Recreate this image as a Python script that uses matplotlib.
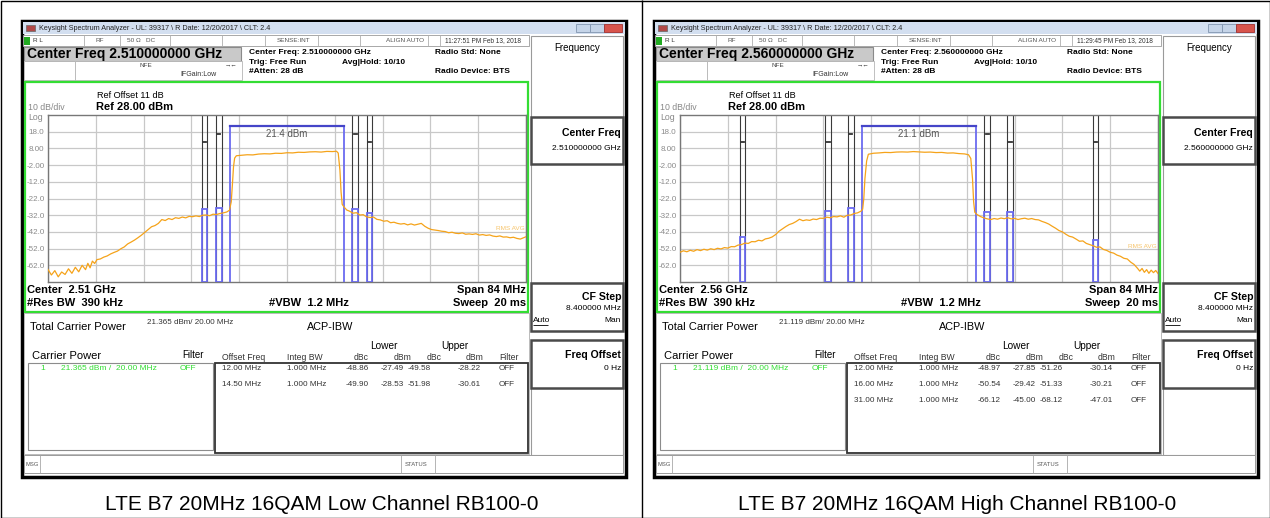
import numpy as np
import matplotlib
matplotlib.use("Agg")
import matplotlib.pyplot as plt
from matplotlib.patches import Rectangle

plt.rcParams['font.family'] = ['Liberation Sans', 'DejaVu Sans']

# DATA  (trace: MHz offset from centre, dBm)
low_trace = [
    (-42.0, -64.5), (-41.4, -67.8), (-40.8, -65.2), (-40.2, -68.9), (-39.6, -66.0),
    (-39.0, -67.5), (-38.4, -64.1), (-37.8, -66.8), (-37.2, -63.2), (-36.6, -65.9),
    (-36.0, -62.0), (-35.4, -64.6), (-35.0, -60.8), (-34.6, -63.5), (-34.2, -59.5),
    (-33.8, -60.9), (-33.4, -58.6), (-32.8, -58.2), (-32.2, -57.1), (-31.6, -56.4),
    (-31.0, -55.2), (-30.4, -54.3), (-29.8, -53.5), (-29.2, -52.1), (-28.6, -51.0),
    (-28.0, -49.2), (-27.4, -48.1), (-26.8, -46.9), (-26.2, -45.5), (-25.6, -44.0),
    (-25.0, -42.3), (-24.4, -40.6), (-23.8, -38.9), (-23.2, -38.2), (-22.6, -36.9),
    (-22.0, -34.6), (-21.4, -35.2), (-20.8, -34.0), (-20.2, -34.6), (-19.6, -33.5),
    (-19.0, -33.9), (-18.4, -33.1), (-17.8, -33.6), (-17.2, -32.7), (-16.6, -32.9),
    (-16.0, -32.4), (-15.4, -32.8), (-14.8, -32.0), (-14.2, -31.9), (-13.6, -32.3),
    (-13.0, -31.4), (-12.4, -31.6), (-11.8, -31.0), (-11.2, -30.6), (-10.6, -30.1),
    (-10.1, -29.0), (-9.8, -24.0), (-9.6, -14.0), (-9.4, -3.0), (-9.2, 2.2),
    (-8.9, 3.6), (-8.0, 3.9), (-7.0, 4.2), (-6.0, 4.1), (-5.0, 4.6), (-4.0, 4.8),
    (-3.0, 4.7), (-2.0, 5.1), (-1.0, 5.0), (0.0, 5.4), (1.0, 5.3), (2.0, 5.7),
    (3.0, 5.6), (4.0, 5.9), (5.0, 6.0), (6.0, 5.8), (7.0, 6.2), (8.0, 6.1),
    (8.7, 6.3), (9.0, 5.2), (9.3, -5.0), (9.5, -18.0), (9.7, -25.5), (10.0, -27.0),
    (10.5, -28.9), (11.0, -29.6), (11.6, -30.8), (12.2, -30.5), (12.8, -31.9),
    (13.4, -31.7), (14.0, -33.0), (14.6, -33.4), (15.2, -33.1), (15.8, -34.5),
    (16.4, -34.8), (17.0, -35.6), (17.6, -35.3), (18.2, -36.5), (18.8, -36.2),
    (19.4, -36.9), (20.0, -37.3), (20.6, -37.0), (21.2, -37.8), (21.8, -37.2),
    (22.4, -37.9), (23.0, -37.4), (23.6, -36.9), (24.2, -38.6), (24.8, -39.8),
    (25.4, -40.6), (26.0, -40.9), (26.6, -41.2), (27.2, -41.6), (27.8, -41.8),
    (28.4, -42.5), (29.0, -42.2), (29.6, -42.8), (30.2, -43.0), (30.8, -42.6),
    (31.4, -43.4), (32.0, -43.2), (32.6, -43.5), (33.2, -43.1), (33.8, -43.9),
    (34.4, -43.6), (35.0, -44.1), (35.6, -43.8), (36.2, -44.5), (36.8, -44.8),
    (37.4, -44.4), (38.0, -45.1), (38.6, -45.0), (39.2, -45.5), (39.8, -45.2),
    (40.4, -45.9), (41.0, -46.3), (41.5, -45.6), (42.0, -44.9),
]

high_trace = [
    (-42.0, -54.2), (-41.4, -53.3), (-40.8, -53.9), (-40.2, -53.0), (-39.6, -53.6),
    (-39.0, -52.6), (-38.4, -53.2), (-37.8, -52.4), (-37.2, -52.9), (-36.6, -52.1),
    (-36.0, -52.6), (-35.4, -51.8), (-34.8, -52.2), (-34.2, -51.4), (-33.6, -51.7),
    (-33.0, -50.8), (-32.4, -50.9), (-31.8, -49.9), (-31.2, -49.6), (-30.6, -48.7),
    (-30.0, -48.9), (-29.4, -47.8), (-28.8, -47.9), (-28.2, -47.0), (-27.6, -47.4),
    (-27.0, -46.2), (-26.4, -45.8), (-25.8, -45.0), (-25.2, -43.6), (-24.6, -41.6),
    (-24.0, -40.2), (-23.4, -38.8), (-22.8, -37.6), (-22.2, -36.9), (-21.6, -35.8),
    (-21.0, -34.4), (-20.4, -35.3), (-19.8, -34.8), (-19.2, -35.1), (-18.6, -34.3),
    (-18.0, -34.6), (-17.4, -33.8), (-16.8, -33.9), (-16.2, -33.2), (-15.6, -33.5),
    (-15.0, -32.8), (-14.4, -33.0), (-13.8, -32.4), (-13.2, -33.2), (-12.6, -32.0),
    (-12.0, -31.9), (-11.4, -31.0), (-10.8, -30.6), (-10.2, -29.6), (-9.9, -28.4),
    (-9.7, -22.0), (-9.5, -10.0), (-9.2, 0.5), (-8.9, 4.5), (-8.0, 5.1), (-7.0, 5.3),
    (-6.0, 5.6), (-5.0, 5.5), (-4.0, 5.8), (-3.0, 5.9), (-2.0, 5.8), (-1.0, 6.1),
    (0.0, 5.9), (1.0, 5.7), (2.0, 5.8), (3.0, 5.5), (4.0, 5.6), (5.0, 5.2),
    (6.0, 5.3), (7.0, 4.9), (8.0, 4.7), (8.7, 4.2), (9.1, 2.0), (9.4, -10.0),
    (9.6, -24.0), (9.8, -30.2), (10.2, -31.6), (10.8, -32.8), (11.4, -33.6),
    (12.0, -34.2), (12.6, -34.6), (13.2, -34.0), (13.8, -34.4), (14.4, -33.7),
    (15.0, -34.1), (15.6, -33.5), (16.2, -34.2), (16.8, -33.9), (17.4, -34.6),
    (18.0, -34.1), (18.6, -33.8), (19.2, -34.4), (19.8, -34.0), (20.4, -34.6),
    (21.0, -34.8), (21.6, -35.7), (22.2, -36.4), (22.8, -37.3), (23.4, -38.6),
    (24.0, -39.8), (24.6, -41.2), (25.2, -42.0), (25.8, -43.4), (26.4, -44.6),
    (27.0, -45.1), (27.6, -46.3), (28.2, -47.6), (28.8, -47.4), (29.4, -48.9),
    (30.0, -49.6), (30.6, -50.3), (31.2, -51.2), (31.8, -51.0), (32.4, -52.5),
    (33.0, -53.1), (33.6, -54.2), (34.2, -54.7), (34.8, -55.9), (35.4, -56.6),
    (36.0, -57.8), (36.6, -58.2), (37.2, -60.1), (37.8, -61.5), (38.4, -63.8),
    (38.8, -65.5), (39.2, -63.9), (39.6, -66.2), (40.0, -64.6), (40.4, -66.8),
    (40.8, -64.9), (41.2, -66.4), (41.6, -65.1), (42.0, -66.9),
]

span_mhz = 84.0
ref_level = 28.0
db_per_div = 10.0
y_tick_vals = [18, 8, -2, -12, -22, -32, -42, -52, -62]
y_tick_labels = ['18.0', '8.00', '-2.00', '-12.0', '-22.0', '-32.0', '-42.0', '-52.0', '-62.0']

carrier_bw = 20.0
integ_bw = 1.0

low_center = '2.510000000 GHz'
high_center = '2.560000000 GHz'
low_center_short = '2.51 GHz'
high_center_short = '2.56 GHz'
low_time = '11:27:51 PM Feb 13, 2018'
high_time = '11:29:45 PM Feb 13, 2018'
low_carrier_power = 21.365
high_carrier_power = 21.119
low_rms_label_level = -39.7
high_rms_label_level = -50.8

low_offsets = [12.0, 14.5]
low_lower_dbc = [-48.86, -49.90]
low_lower_dbm = [-27.49, -28.53]
low_upper_dbc = [-49.58, -51.98]
low_upper_dbm = [-28.22, -30.61]

high_offsets = [12.0, 16.0, 31.0]
high_lower_dbc = [-48.97, -50.54, -66.12]
high_lower_dbm = [-27.85, -29.42, -45.00]
high_upper_dbc = [-51.26, -51.33, -68.12]
high_upper_dbm = [-30.14, -30.21, -47.01]

captions = ['LTE B7 20MHz 16QAM Low Channel RB100-0',
            'LTE B7 20MHz 16QAM High Channel RB100-0']

W, H = 1270, 518
fig = plt.figure(figsize=(W / 100, H / 100), dpi=100)
bg = fig.add_axes([0, 0, 1, 1])
bg.set_xlim(0, W)
bg.set_ylim(H, 0)
bg.axis('off')


def txt(x, y, s, size=6, ha='left', color='black', weight='normal', **kw):
    bg.text(x, y, s, fontsize=size, ha=ha, va='center', color=color, fontweight=weight, **kw)


def box(x0, y0, x1, y1, fc='none', ec='black', lw=1.0, z=1):
    bg.add_patch(Rectangle((x0, y0), x1 - x0, y1 - y0, facecolor=fc, edgecolor=ec, lw=lw, zorder=z))


def line(xs, ys, color='black', lw=1.0, z=2):
    bg.plot(xs, ys, color=color, lw=lw, zorder=z, solid_capstyle='butt')


def px_rect(x0, y0, x1, y1):
    return [x0 / W, 1 - y1 / H, (x1 - x0) / W, (y1 - y0) / H]


def draw_screen(dx, center, center_short, stamp, power, rms_level, trace,
                offsets, lo_dbc, lo_dbm, up_dbc, up_dbm):
    # window frame
    box(22 + dx, 21, 626 + dx, 477, fc='white', ec='black', lw=2.5, z=1)
    box(23 + dx, 22, 625 + dx, 34, fc='#d3dff0', ec='none', z=2)
    box(26 + dx, 25, 35 + dx, 31, fc='#b04848', ec='#666', lw=0.5, z=3)
    txt(39 + dx, 28, r'Keysight Spectrum Analyzer - UL: 39317 \ R Date: 12/20/2017 \ CLT: 2.4', size=5.2, color='#222')
    box(576 + dx, 24, 590 + dx, 32, fc='#c5d4e8', ec='#8296b0', lw=0.6, z=3)
    box(590 + dx, 24, 604 + dx, 32, fc='#c5d4e8', ec='#8296b0', lw=0.6, z=3)
    box(604 + dx, 24, 622 + dx, 32, fc='#d8544c', ec='#a03030', lw=0.6, z=3)

    # status row
    box(23 + dx, 35, 529 + dx, 46, fc='white', ec='#9a9a9a', lw=0.6, z=2)
    for sx in [84, 120, 170, 222, 265, 318, 360, 428, 440]:
        line([sx + dx, sx + dx], [35, 46], color='#b0b0b0', lw=0.6, z=3)
    box(24 + dx, 37, 30 + dx, 45, fc='#22aa22', ec='none', z=3)
    txt(33 + dx, 40.5, 'R L', size=4.6, color='#333')
    txt(95 + dx, 40.5, 'RF', size=4.6, color='#555')
    txt(127 + dx, 40.5, u'50 \u03a9   DC', size=4.6, color='#555')
    txt(277 + dx, 40.5, 'SENSE:INT', size=4.6, color='#555')
    txt(386 + dx, 40.5, 'ALIGN AUTO', size=4.6, color='#555')
    txt(445 + dx, 40.5, stamp, size=4.7, color='#333')

    # header
    box(24 + dx, 47, 241 + dx, 61, fc='#c9c9c9', ec='#8a8a8a', lw=0.8, z=2)
    txt(27 + dx, 54, 'Center Freq ' + center, size=10, weight='bold')
    box(24 + dx, 61, 75 + dx, 80, fc='white', ec='#b5b5b5', lw=0.6, z=2)
    box(75 + dx, 61, 242 + dx, 80, fc='white', ec='#b5b5b5', lw=0.6, z=2)
    txt(140 + dx, 65.5, 'NFE', size=4.6, color='#444')
    txt(231 + dx, 64.5, u'\u2192\u2190', size=4.6, color='#333', ha='center')
    txt(180 + dx, 74, 'IFGain:Low', size=5, color='#333')
    txt(249 + dx, 52, 'Center Freq: ' + center, size=6, weight='bold')
    txt(249 + dx, 62, 'Trig: Free Run', size=6, weight='bold')
    txt(249 + dx, 71.5, '#Atten: 28 dB', size=6, weight='bold')
    txt(342 + dx, 62, 'Avg|Hold: 10/10', size=6, weight='bold')
    txt(435 + dx, 52, 'Radio Std: None', size=6, weight='bold')
    txt(435 + dx, 71.5, 'Radio Device: BTS', size=6, weight='bold')

    # green graticule frame
    box(25 + dx, 82, 528 + dx, 312, fc='white', ec='#33dd33', lw=1.6, z=2)
    txt(97 + dx, 95.5, 'Ref Offset 11 dB', size=6.6)
    txt(28 + dx, 107.5, '10 dB/div', size=6.3, color='#888')
    txt(96 + dx, 107, 'Ref 28.00 dBm', size=8, weight='bold')
    txt(28 + dx, 118, 'Log', size=6.3, color='#888')
    txt(27 + dx, 290, 'Center  ' + center_short, size=8, weight='bold')
    txt(27 + dx, 303, '#Res BW  390 kHz', size=8, weight='bold')
    txt(309 + dx, 303, '#VBW  1.2 MHz', size=8, weight='bold', ha='center')
    txt(526 + dx, 290, 'Span 84 MHz', size=8, weight='bold', ha='right')
    txt(526 + dx, 303, 'Sweep  20 ms', size=8, weight='bold', ha='right')

    # trace axes
    ax = fig.add_axes(px_rect(48 + dx, 115, 526 + dx, 282), zorder=5)
    bottom = ref_level - 10 * db_per_div
    ax.set_xlim(-span_mhz / 2, span_mhz / 2)
    ax.set_ylim(bottom, ref_level)
    ax.set_xticks(np.linspace(-span_mhz / 2, span_mhz / 2, 11))
    ax.set_xticklabels([])
    ax.set_yticks(y_tick_vals)
    ax.set_yticklabels(y_tick_labels)
    ax.tick_params(length=0, pad=2.5, labelsize=5.8, labelcolor='#8a8a8a')
    ax.grid(True, color='#c8c8c8', lw=0.9)
    ax.set_axisbelow(True)
    for sp in ax.spines.values():
        sp.set_color('#777777')
        sp.set_linewidth(1.0)

    for i, off in enumerate(offsets):
        mark_y = 16.6 if i == 0 else 11.8
        for side, val in ((-1, lo_dbm[i]), (1, up_dbm[i])):
            c = side * off
            for e in (c - integ_bw / 2, c + integ_bw / 2):
                ax.plot([e, e], [bottom, ref_level], color='#3a3a3a', lw=0.8, zorder=2)
            ax.add_patch(Rectangle((c - integ_bw / 2, bottom), integ_bw, val - bottom,
                                   fill=False, edgecolor='#6b6bf0', lw=1.3, zorder=4))
            ax.plot([c - 0.28, c + 0.28], [mark_y, mark_y], color='#333', lw=1.3, zorder=4)

    hb = carrier_bw / 2
    ax.plot([-hb, -hb, hb, hb], [bottom, power, power, bottom], color='#6b6bf0', lw=1.3, zorder=4)
    ax.plot([-hb, hb], [power, power], color='#4545c8', lw=1.6, zorder=4)
    ax.text(0, 16.4, '%.1f dBm' % power, fontsize=7, ha='center', va='center', color='#555')

    fx = [p[0] for p in trace]
    fy = [p[1] for p in trace]
    ax.plot(fx, fy, color='#f5a31a', lw=0.9, zorder=6)
    ax.text(span_mhz / 2 - 0.3, rms_level, 'RMS AVG', fontsize=4.6, ha='right', va='center',
            color='#f7c46a', zorder=7)

    # measurement results
    box(24 + dx, 313, 529 + dx, 454, fc='white', ec='#b0b0b0', lw=0.6, z=2)
    txt(30 + dx, 326.5, 'Total Carrier Power', size=8)
    txt(147 + dx, 323, '%.3f dBm/ %.2f MHz' % (power, carrier_bw), size=5.8, color='#333')
    txt(330 + dx, 327, 'ACP-IBW', size=7.8, ha='center')
    txt(32 + dx, 356, 'Carrier Power', size=8)
    txt(204 + dx, 355, 'Filter', size=7, ha='right')
    box(28 + dx, 363, 213 + dx, 450, fc='white', ec='#8c8c8c', lw=0.8, z=2)
    box(215 + dx, 363, 528 + dx, 453, fc='white', ec='#333333', lw=1.3, z=2)
    green = '#33dd33'
    txt(43 + dx, 369, '1', size=6, color=green, ha='center')
    txt(61 + dx, 369, '%.3f dBm /  %.2f MHz' % (power, carrier_bw), size=6, color=green)
    txt(180 + dx, 369, 'OFF', size=6, color=green)

    txt(384 + dx, 346, 'Lower', size=7.3, ha='center')
    txt(455 + dx, 346, 'Upper', size=7.3, ha='center')
    hy = 357
    txt(222 + dx, hy, 'Offset Freq', size=6.2, color='#333')
    txt(287 + dx, hy, 'Integ BW', size=6.2, color='#333')
    txt(369 + dx, hy, 'dBc', size=6.2, color='#333', ha='right')
    txt(412 + dx, hy, 'dBm', size=6.2, color='#333', ha='right')
    txt(442 + dx, hy, 'dBc', size=6.2, color='#333', ha='right')
    txt(483 + dx, hy, 'dBm', size=6.2, color='#333', ha='right')
    txt(499 + dx, hy, 'Filter', size=6.2, color='#333')
    for i, off in enumerate(offsets):
        ry = 369 + 15.5 * i
        txt(222 + dx, ry, '%.2f MHz' % off, size=5.9, color='#333')
        txt(287 + dx, ry, '%.3f MHz' % integ_bw, size=5.9, color='#333')
        txt(369 + dx, ry, '%.2f' % lo_dbc[i], size=5.9, color='#333', ha='right')
        txt(404 + dx, ry, '%.2f' % lo_dbm[i], size=5.9, color='#333', ha='right')
        txt(431 + dx, ry, '%.2f' % up_dbc[i], size=5.9, color='#333', ha='right')
        txt(481 + dx, ry, '%.2f' % up_dbm[i], size=5.9, color='#333', ha='right')
        txt(499 + dx, ry, 'OFF', size=5.9, color='#333')

    # softkeys
    sk0, sk1 = 531 + dx, 623 + dx
    box(sk0, 36, sk1, 117, fc='white', ec='#9a9a9a', lw=0.8, z=2)
    txt((sk0 + sk1) / 2, 48, 'Frequency', size=7, ha='center')
    box(sk0, 117, sk1, 164, fc='white', ec='#4a4a4a', lw=1.8, z=3)
    txt(sk1 - 2, 133, 'Center Freq', size=7.6, weight='bold', ha='right')
    txt(sk1 - 2, 148, center, size=6, ha='right')
    box(sk0, 164, sk1, 283, fc='white', ec='#9a9a9a', lw=0.8, z=2)
    box(sk0, 283, sk1, 331, fc='white', ec='#4a4a4a', lw=1.8, z=3)
    txt(sk1 - 2, 297, 'CF Step', size=7.6, weight='bold', ha='right')
    txt(sk1 - 2, 308, '8.400000 MHz', size=6, ha='right')
    txt(sk0 + 2, 320, 'Auto', size=6, ha='left')
    line([sk0 + 2, sk0 + 17], [324.5, 324.5], color='black', lw=0.6, z=4)
    txt(sk1 - 2, 320, 'Man', size=6, ha='right')
    box(sk0, 340, sk1, 388, fc='white', ec='#4a4a4a', lw=1.8, z=3)
    txt(sk1 - 2, 355, 'Freq Offset', size=7.6, weight='bold', ha='right')
    txt(sk1 - 2, 369, '0 Hz', size=6, ha='right')
    box(sk0, 388, sk1, 455, fc='white', ec='#9a9a9a', lw=0.8, z=2)

    # message bar
    box(24 + dx, 455, 623 + dx, 473, fc='white', ec='#9a9a9a', lw=0.7, z=3)
    for sx in [39.5, 401, 434.5]:
        line([sx + dx, sx + dx], [455, 473], color='#a8a8a8', lw=0.6, z=4)
    txt(26 + dx, 464, 'MSG', size=4.2, color='#555')
    txt(405 + dx, 464, 'STATUS', size=4.2, color='#555')


draw_screen(0, low_center, low_center_short, low_time, low_carrier_power, low_rms_label_level,
            low_trace, low_offsets, low_lower_dbc, low_lower_dbm, low_upper_dbc, low_upper_dbm)
draw_screen(632, high_center, high_center_short, high_time, high_carrier_power, high_rms_label_level,
            high_trace, high_offsets, high_lower_dbc, high_lower_dbm, high_upper_dbc, high_upper_dbm)

# page table lines and captions
line([642, 642], [0, H], color='black', lw=1.0, z=0)
box(0.5, 0.5, W - 0.5, H - 0.5, fc='none', ec='black', lw=1.0, z=0)
txt(322, 504, captions[0], size=15, ha='center')
txt(957, 504, captions[1], size=15, ha='center')

fig.savefig('out.png', dpi=100)
